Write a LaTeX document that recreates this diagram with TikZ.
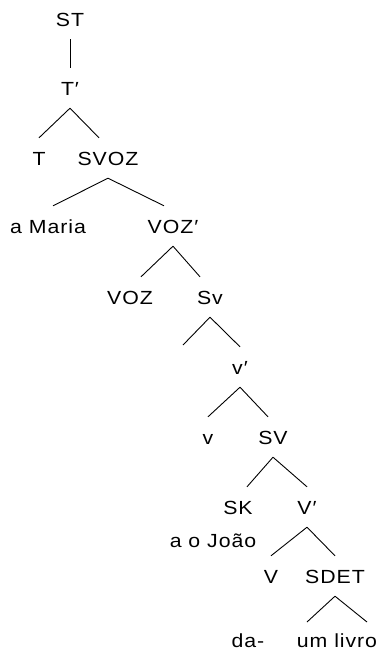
\documentclass[tikz,border=0pt]{standalone}
\usepackage{fontspec}
\setmainfont{Liberation Sans}[FakeStretch=1.12, LetterSpace=5]

\begin{document}
\begin{tikzpicture}[x=1pt, y=-1pt,
    lab/.style={inner sep=0pt, text height=27pt, text depth=13pt,
                font=\fontsize{19}{21}\selectfont},
    branch/.style={black, line width=0.9pt}]
  \useasboundingbox (0, 0) rectangle (388, 651);
  % labels, top to bottom
  \node[lab] (stp)    at (70 , 19)  {ST};
  \node[lab] (tbar)   at (70 , 88)  {T′};
  \node[lab] (t)      at (39 , 158) {T};
  \node[lab] (svoz)   at (108, 158) {SVOZ};
  \node[lab] (maria)  at (48 , 226) {a Maria};
  \node[lab] (vozbar) at (173, 226) {VOZ′};
  \node[lab] (voz)    at (130, 297) {VOZ};
  \node[lab] (slv)    at (210, 297) {Sv};
  \node[lab] (lvbar)  at (240, 367) {v′};
  \node[lab] (lv)     at (208, 437) {v};
  \node[lab] (sbv)    at (273, 437) {SV};
  \node[lab] (sk)     at (238, 507) {SK};
  \node[lab] (joao)   at (213, 540) {a o João};
  \node[lab] (vbar)   at (307, 507) {V′};
  \node[lab] (bv)     at (271, 576) {V};
  \node[lab] (sdet)   at (335, 576) {SDET};
  \node[lab] (da)     at (248, 640) {da-};
  \node[lab] (livro)  at (337, 640) {um livro};
  % loose branch ends
  \coordinate (slv-l)  at (183, 345);
  \coordinate (sdet-l) at (307, 622);
  \coordinate (sdet-r) at (367, 622);
  % branches (some arms lean off the label centre)
  \draw[branch] (stp.south)    -- (tbar.north);
  \draw[branch] (tbar.south)   -- (t.north);
  \draw[branch] (tbar.south)   -- ([xshift=-9pt]svoz.north);
  \draw[branch] (svoz.south)   -- ([xshift=5pt]maria.north);
  \draw[branch] (svoz.south)   -- ([xshift=-9pt]vozbar.north);
  \draw[branch] (vozbar.south) -- ([xshift=11pt]voz.north);
  \draw[branch] (vozbar.south) -- ([xshift=-10pt]slv.north);
  \draw[branch] (slv.south)    -- (slv-l);
  \draw[branch] (slv.south)    -- (lvbar.north);
  \draw[branch] (lvbar.south)  -- (lv.north);
  \draw[branch] (lvbar.south)  -- ([xshift=-5pt]sbv.north);
  \draw[branch] (sbv.south)    -- ([xshift=9pt]sk.north);
  \draw[branch] (sbv.south)    -- (vbar.north);
  \draw[branch] (vbar.south)   -- (bv.north);
  \draw[branch] (vbar.south)   -- (sdet.north);
  \draw[branch] (sdet.south)   -- (sdet-l);
  \draw[branch] (sdet.south)   -- (sdet-r);
\end{tikzpicture}
\end{document}
